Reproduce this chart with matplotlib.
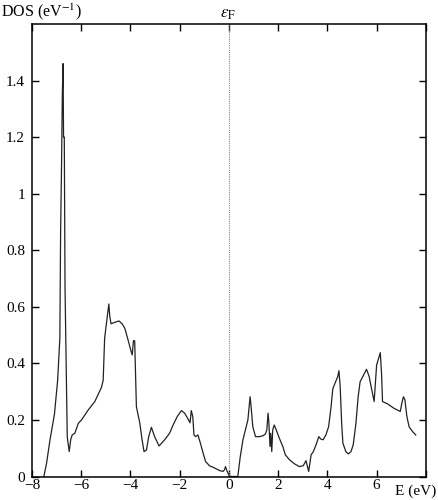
import matplotlib
matplotlib.use("Agg")
import matplotlib.pyplot as plt

plt.rcParams['font.family'] = ['Liberation Serif', 'DejaVu Serif']
plt.rcParams['mathtext.fontset'] = 'stix'

# density of states
energy = [-7.52, -7.41, -7.27, -7.09, -6.96, -6.87, -6.84, -6.80, -6.77, -6.74,
          -6.72, -6.69, -6.66, -6.57, -6.49, -6.43, -6.37, -6.26, -6.12, -5.99,
          -5.72, -5.45, -5.18, -5.11, -5.05, -4.97, -4.88, -4.84, -4.79, -4.64,
          -4.47, -4.34, -4.23, -4.09, -3.99, -3.93, -3.88, -3.83, -3.79, -3.76,
          -3.62, -3.53, -3.45, -3.35, -3.26, -3.15, -3.02, -2.84, -2.61, -2.41,
          -2.27, -2.10, -1.93, -1.80, -1.64, -1.58, -1.53, -1.47, -1.42, -1.35,
          -1.26, -1.16, -1.05, -0.95, -0.79, -0.58, -0.38, -0.24, -0.18, -0.14,
          -0.07, 0.00, 0.05, 0.36, 0.46, 0.57, 0.67, 0.77, 0.86, 0.90,
          0.97, 1.08, 1.24, 1.38, 1.48, 1.54, 1.59, 1.62, 1.67, 1.70,
          1.74, 1.78, 1.84, 1.92, 2.05, 2.19, 2.29, 2.46, 2.66, 2.86,
          3.02, 3.13, 3.19, 3.24, 3.34, 3.43, 3.54, 3.65, 3.74, 3.83,
          3.94, 4.05, 4.15, 4.22, 4.31, 4.42, 4.47, 4.52, 4.58, 4.63,
          4.75, 4.85, 4.96, 5.05, 5.16, 5.25, 5.33, 5.47, 5.59, 5.70,
          5.79, 5.90, 6.00, 6.06, 6.15, 6.20, 6.24, 6.44, 6.71, 6.96,
          7.04, 7.09, 7.15, 7.23, 7.32, 7.46, 7.59]
dos = [0.0, 0.047, 0.13, 0.22, 0.34, 0.49, 0.86, 1.11, 1.35, 1.46,
       1.20, 1.20, 0.67, 0.14, 0.088, 0.13, 0.147, 0.153, 0.188, 0.20,
       0.235, 0.265, 0.315, 0.34, 0.49, 0.545, 0.61, 0.565, 0.54, 0.545,
       0.55, 0.54, 0.524, 0.48, 0.447, 0.43, 0.48, 0.48, 0.35, 0.247,
       0.188, 0.13, 0.088, 0.094, 0.141, 0.174, 0.141, 0.108, 0.13, 0.153,
       0.182, 0.212, 0.233, 0.224, 0.20, 0.19, 0.233, 0.212, 0.147, 0.141,
       0.147, 0.118, 0.083, 0.053, 0.038, 0.03, 0.021, 0.018, 0.024, 0.035,
       0.018, 0.005, 0.0, 0.0, 0.07, 0.13, 0.165, 0.20, 0.282, 0.247,
       0.176, 0.141, 0.141, 0.144, 0.15, 0.165, 0.224, 0.194, 0.106, 0.153,
       0.088, 0.165, 0.182, 0.165, 0.135, 0.106, 0.077, 0.059, 0.045, 0.035,
       0.038, 0.056, 0.035, 0.018, 0.077, 0.088, 0.112, 0.141, 0.132, 0.13,
       0.147, 0.176, 0.247, 0.31, 0.33, 0.353, 0.374, 0.318, 0.188, 0.118,
       0.088, 0.08, 0.088, 0.112, 0.188, 0.282, 0.335, 0.359, 0.379, 0.353,
       0.312, 0.265, 0.394, 0.412, 0.438, 0.365, 0.265, 0.257, 0.241, 0.23,
       0.265, 0.282, 0.271, 0.212, 0.176, 0.159, 0.147]

xticks = [-8, -6, -4, -2, 0, 2, 4, 6, 8]
xticklabels = ['\u22128', '\u22126', '\u22124', '\u22122', '0', '2', '4', '6', '']
yticks = [0, 0.2, 0.4, 0.6, 0.8, 1.0, 1.2, 1.4]
yticklabels = ['0', '0.2', '0.4', '0.6', '0.8', '1', '1.2', '1.4']

fig = plt.figure(figsize=(4.39, 5.00), dpi=100)
ax = fig.add_axes([0.073, 0.047, 0.897, 0.905])

ax.plot(energy, dos, color='#222222', lw=0.9)
ax.axvline(0, color='#888888', lw=0.8, ls=(0, (1, 1)))

ax.set_xlim(-8, 8)
ax.set_ylim(0, 1.6)
ax.set_xticks(xticks)
ax.set_xticklabels(xticklabels)
ax.set_yticks(yticks)
ax.set_yticklabels(yticklabels)
ax.tick_params(direction='in', length=5, width=1, top=True, right=True,
               labelsize=11)
ax.tick_params(axis='x', pad=2)
ax.tick_params(axis='y', pad=5)
for s in ax.spines.values():
    s.set_linewidth(1.1)

fig.text(0.002, 0.998, 'DOS (eV$^{-1}$)', ha='left', va='top', fontsize=11.5)
fig.text(0.52, 0.972, r'$\varepsilon_{\mathrm{F}}$', ha='center', va='center',
         fontsize=12)
fig.text(0.9, 0.018, 'E (eV)', ha='left', va='center', fontsize=11)

fig.savefig('out.png', dpi=100)
